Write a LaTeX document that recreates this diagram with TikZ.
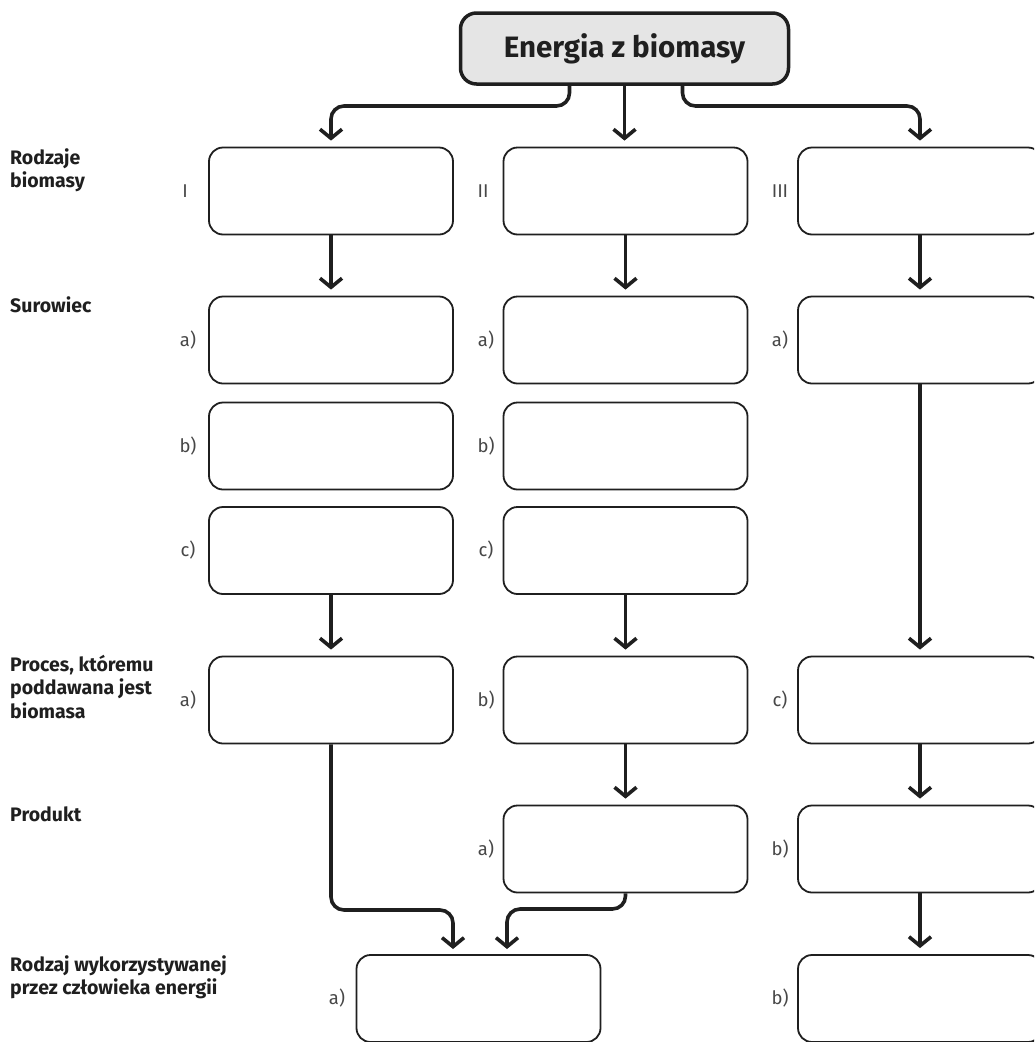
\documentclass[tikz,border=0pt]{standalone}
\usepackage{fontspec}
\setmainfont{Fira Sans}
\usetikzlibrary{arrows.meta}
\tikzset{
  box/.style={draw=black!88, line width=1.8pt, rounded corners=14pt, minimum width=244pt, minimum height=87pt, inner sep=0pt, fill=white},
  topbox/.style={draw=black!88, line width=3.5pt, fill=black!10, rounded corners=16pt, minimum width=328pt, minimum height=71pt, inner sep=0pt, font=\fontsize{29.5}{32}\selectfont\bfseries, text=black!88},
  arr/.style={draw=black!88, line width=3.6pt, rounded corners=13pt, -{Straight Barb[length=9pt,width=22pt]}, shorten >=6pt},
  lab/.style={font=\fontsize{18.5}{21}\selectfont, text=black!72, inner sep=0pt},
  row/.style={font=\fontsize{19.5}{23.5}\selectfont\bfseries, text=black!88, align=left, anchor=north west, inner sep=0pt}
}
\begin{document}
\begin{tikzpicture}[x=1pt,y=-1pt]
\useasboundingbox (0,0) rectangle (1034,1042);
\clip (0,0) rectangle (1034,1042);
% top
\node[topbox] (top) at (624.5,48.5) {Energia z biomasy};
% row labels
\node[row] (l1) at (10,148) {Rodzaje\\biomasy};
\node[row] (l2) at (10,296) {Surowiec};
\node[row] (l3) at (10,655) {Proces, kt\'oremu\\poddawana jest\\biomasa};
\node[row] (l4) at (10,806) {Produkt};
\node[row] (l5) at (10,955) {Rodzaj wykorzystywanej\\przez cz\l{}owieka energii};
% column I
\node[box] (A1) at (331,191) {};
\node[box] (A2) at (331,340) {};
\node[box] (A3) at (331,446) {};
\node[box] (A4) at (331,550.5) {};
\node[box] (A5) at (331,700) {};
% column II
\node[box] (B1) at (625.5,191) {};
\node[box] (B2) at (625.5,340) {};
\node[box] (B3) at (625.5,446) {};
\node[box] (B4) at (625.5,550.5) {};
\node[box] (B5) at (625.5,700) {};
\node[box] (B6) at (625.5,849) {};
% column III
\node[box] (C1) at (920,191) {};
\node[box] (C2) at (920,340) {};
\node[box] (C5) at (920,700) {};
\node[box] (C6) at (920,849) {};
\node[box] (C7) at (920,998.5) {};
% energy a
\node[box] (E1) at (478.5,998.5) {};
% side labels
\node[lab] at (185,191) {I};
\node[lab] at (483,191) {II};
\node[lab] at (780,191) {III};
\node[lab] at (188,340) {a)};
\node[lab] at (188,446) {b)};
\node[lab] at (188,550.5) {c)};
\node[lab] at (188,700) {a)};
\node[lab] at (486,340) {a)};
\node[lab] at (486,446) {b)};
\node[lab] at (486,550.5) {c)};
\node[lab] at (486,700) {b)};
\node[lab] at (486,849) {a)};
\node[lab] at (780,340) {a)};
\node[lab] at (780,700) {c)};
\node[lab] at (780,849) {b)};
\node[lab] at (337,998.5) {a)};
\node[lab] at (780,998.5) {b)};
% arrows from top
\draw[arr] ([xshift=-55pt]top.south) |- (331,106) -- (A1.north);
\draw[arr] (top.south) -- (top.south |- B1.north);
\draw[arr] ([xshift=58pt]top.south) |- (920,106) -- (C1.north);
% column arrows
\draw[arr] (A1) -- (A2);
\draw[arr] (A4) -- (A5);
\draw[arr] (B1) -- (B2);
\draw[arr] (B4) -- (B5);
\draw[arr] (B5) -- (B6);
\draw[arr] (C1) -- (C2);
\draw[arr] (C2) -- (C5);
\draw[arr] (C5) -- (C6);
\draw[arr] (C6) -- (C7);
% merge arrows
\draw[arr] (A5.south) |- (453,910) -- (453,955);
\draw[arr] (B6.south) |- (507,909) -- (507,955);
\end{tikzpicture}
\end{document}
